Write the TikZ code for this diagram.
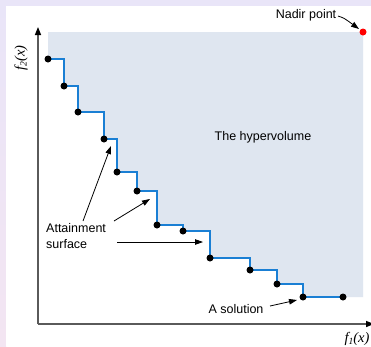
\documentclass[tikz,border=0pt]{standalone}
\usepackage{fontspec}
\setmainfont{Liberation Sans}
\newfontfamily\serifit{Liberation Serif}
\usetikzlibrary{arrows.meta}
\definecolor{lav}{HTML}{E9E5F8}
\definecolor{pinkl}{HTML}{F3E5F2}
\definecolor{shadebg}{HTML}{DFE6F0}
\definecolor{stair}{HTML}{1A7FD4}
\definecolor{axisgray}{HTML}{5A5A5A}
\tikzset{
  dot/.style={circle,fill=black,inner sep=0pt,minimum size=7pt},
  nadirdot/.style={circle,fill=red,inner sep=0pt,minimum size=7pt},
  lbl/.style={font=\fontsize{12.5}{16}\selectfont,inner sep=0pt},
  axlbl/.style={font=\serifit\itshape\fontsize{14.5}{14.5}\selectfont,inner sep=0pt},
  ann/.style={black,line width=0.8pt,-{Triangle[width=5.5pt,length=8pt]}},
  axisline/.style={axisgray,line width=1.4pt,-{Triangle[width=6pt,length=8pt,color=black]}},
  stairline/.style={stair,line width=2pt},
}
\begin{document}
\begin{tikzpicture}[x=1pt,y=-1pt]
\useasboundingbox (0,0) rectangle (371,346);
\shade[top color=lav,bottom color=pinkl] (0,0) rectangle (6,346);
\fill[lav] (0,0) rectangle (371,6);
\fill[white] (6,6) rectangle (371,346);
% solution positions
\coordinate (c1) at (48,59);
\coordinate (c2) at (64,86);
\coordinate (c3) at (78,112);
\coordinate (c4) at (104,139);
\coordinate (c5) at (117,172);
\coordinate (c6) at (137,191);
\coordinate (c7) at (157,225);
\coordinate (c8) at (183,231);
\coordinate (c9) at (210,258);
\coordinate (c10) at (250,270);
\coordinate (c11) at (277,284);
\coordinate (c12) at (303,297);
\coordinate (c13) at (343,297);
\coordinate (tl) at (48,32);
\coordinate (tr) at (363,32);
\coordinate (br) at (363,297);
% hypervolume
\fill[shadebg] (tl) -- (tr) -- (br) -- (c12) |- (c11) |- (c10) |- (c9) |- (c8) |- (c7) |- (c6) |- (c5) |- (c4) |- (c3) |- (c2) |- (c1) -- cycle;
% axes
\coordinate (o) at (38,324);
\coordinate (ytip) at (38,27);
\coordinate (xtip) at (374,324);
\draw[axisline] (o) -- (ytip);
\draw[axisline] (o) -- (xtip);
% attainment surface
\draw[stairline] (c1) -| (c2) -| (c3) -| (c4) -| (c5) -| (c6) -| (c7) -| (c8) -| (c9) -| (c10) -| (c11) -| (c12) -- (c13);
\foreach \i in {1,...,13} \node[dot] (p\i) at (c\i) {};
\node[nadirdot] (nadir) at (tr) {};
% labels
\node[axlbl,rotate=90] (f2) at (21,58) {f\raisebox{-0.3ex}{\fontsize{9.5}{9.5}\selectfont 2}(x)};
\node[axlbl] (f1) at (357,339) {f\raisebox{-0.3ex}{\fontsize{9.5}{9.5}\selectfont 1}(x)};
\node[lbl] (hv) at (263,137) {The hypervolume};
\node[lbl] (nadirtxt) at (306,15) {Nadir point};
\node[lbl,align=left,anchor=north west] (att) at (46,223) {Attainment\\surface};
\node[lbl] (sol) at (236,309) {A solution};
% annotation arrows
\coordinate (a1s) at (83,221);
\coordinate (a1e) at (111,146);
\coordinate (a2s) at (114,221);
\coordinate (a2e) at (150,199);
\coordinate (a3s) at (117,242);
\coordinate (a3e) at (203,242);
\coordinate (sols) at (270,306);
\coordinate (sole) at (297,300);
\coordinate (nads) at (338,16);
\coordinate (nadc) at (344,18);
\coordinate (nade) at (359,29);
\draw[ann] (a1s) -- (a1e);
\draw[ann] (a2s) -- (a2e);
\draw[ann] (a3s) -- (a3e);
\draw[ann] (sols) -- (sole);
\draw[ann] (nads) .. controls (nadc) .. (nade);
\end{tikzpicture}
\end{document}
